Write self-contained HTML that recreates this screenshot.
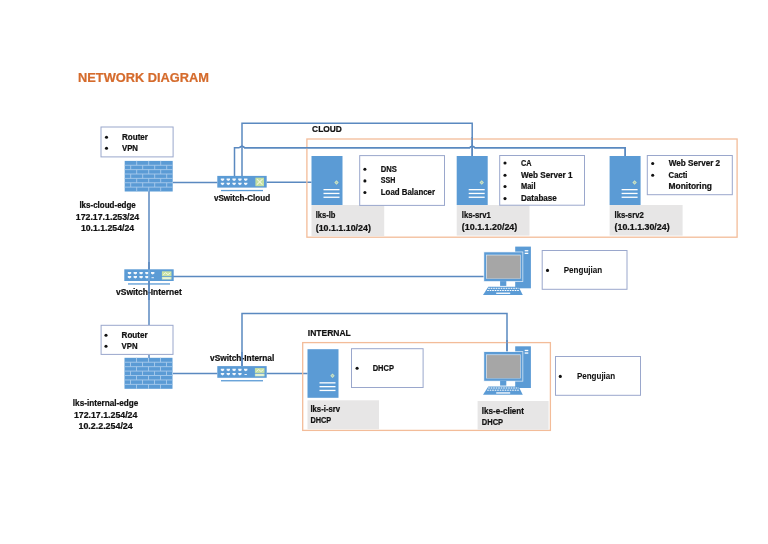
<!DOCTYPE html><html><head><meta charset="utf-8"><style>html,body{margin:0;padding:0;background:#fff;}svg{display:block;font-family:"Liberation Sans",sans-serif;will-change:transform;}</style></head><body>
<svg width="768" height="544" viewBox="0 0 768 544">
<rect x="0" y="0" width="768" height="544" fill="#fff" stroke="none" stroke-width="1"/>
<text x="78" y="81.9" font-size="12.4" font-weight="bold" fill="#D56B2C" stroke="#D56B2C" stroke-width="0.22" text-anchor="start" textLength="131" lengthAdjust="spacingAndGlyphs" >NETWORK DIAGRAM</text>
<polyline points="173,182.4 217.3,182.4" fill="none" stroke="#5A89C0" stroke-width="1.5"/>
<polyline points="266.7,182.2 311.5,182.2" fill="none" stroke="#5A89C0" stroke-width="1.5"/>
<polyline points="242,176 242,123.3 472.2,123.3 472.2,156" fill="none" stroke="#5A89C0" stroke-width="1.5"/>
<polyline points="234.5,176 234.5,147.7 239.4,147.7" fill="none" stroke="#5A89C0" stroke-width="1.5"/>
<path d="M239.4,147.7 Q242,145.0 244.6,147.7 L469.6,147.7 Q472.2,145.0 474.8,147.7 L625.2,147.7 L625.2,156" fill="none" stroke="#5A89C0" stroke-width="1.5"/>
<polyline points="149,191 149,325" fill="none" stroke="#5A89C0" stroke-width="1.5"/>
<polyline points="149,355 149,358" fill="none" stroke="#5A89C0" stroke-width="1.5"/>
<polyline points="173,276.5 484,276.5" fill="none" stroke="#5A89C0" stroke-width="1.5"/>
<polyline points="173,373.4 217.3,373.4" fill="none" stroke="#5A89C0" stroke-width="1.5"/>
<polyline points="266.6,373.4 307.5,373.4" fill="none" stroke="#5A89C0" stroke-width="1.5"/>
<polyline points="242,366 242,313.6 507,313.6 507,352" fill="none" stroke="#5A89C0" stroke-width="1.5"/>
<text x="312.1" y="132.45" font-size="9.2" font-weight="bold" fill="#111" stroke="#111" stroke-width="0.22" text-anchor="start" textLength="29.7" lengthAdjust="spacingAndGlyphs" >CLOUD</text>
<rect x="306.9" y="139" width="430.2" height="98.2" fill="none" stroke="#F3BC99" stroke-width="1.3"/>
<path d="M239.4,147.7 Q242,145.0 244.6,147.7 L469.6,147.7 Q472.2,145.0 474.8,147.7 L625.2,147.7 L625.2,156" fill="none" stroke="#5A89C0" stroke-width="1.5"/>
<polyline points="472.2,137 472.2,156" fill="none" stroke="#5A89C0" stroke-width="1.5"/>
<rect x="311.5" y="156" width="31" height="49" fill="#5B9BD5" stroke="none" stroke-width="1"/>
<path d="M334.3,182.5L336.5,180.3L338.7,182.5L336.5,184.7Z" fill="#D6E8BE"/>
<path d="M335.5,182.5L336.5,181.5L337.5,182.5L336.5,183.5Z" fill="#9CC3C8"/>
<rect x="323.5" y="189.0" width="16" height="1.3" fill="#fff" stroke="none" stroke-width="1"/>
<rect x="323.5" y="192.8" width="16" height="1.3" fill="#fff" stroke="none" stroke-width="1"/>
<rect x="323.5" y="196.6" width="16" height="1.3" fill="#fff" stroke="none" stroke-width="1"/>
<rect x="311.5" y="205" width="72.7" height="31.2" fill="#E7E6E6" stroke="none" stroke-width="1"/>
<text x="315.7" y="218.2" font-size="8.4" font-weight="bold" fill="#111" stroke="#111" stroke-width="0.22" text-anchor="start" textLength="19.8" lengthAdjust="spacingAndGlyphs" >lks-lb</text>
<text x="315.7" y="230.5" font-size="8.4" font-weight="bold" fill="#111" stroke="#111" stroke-width="0.22" text-anchor="start" textLength="55.2" lengthAdjust="spacingAndGlyphs" >(10.1.1.10/24)</text>
<rect x="359.7" y="155.6" width="84.8" height="49.8" fill="#fff" stroke="#9AA7CC" stroke-width="1"/>
<circle cx="364.9" cy="169.29999999999998" r="1.55" fill="#111"/>
<text x="380.8" y="171.7" font-size="8.4" font-weight="bold" fill="#111" stroke="#111" stroke-width="0.22" text-anchor="start" textLength="16.1" lengthAdjust="spacingAndGlyphs" >DNS</text>
<circle cx="364.9" cy="180.89999999999998" r="1.55" fill="#111"/>
<text x="380.8" y="183.29999999999998" font-size="8.4" font-weight="bold" fill="#111" stroke="#111" stroke-width="0.22" text-anchor="start" textLength="14.6" lengthAdjust="spacingAndGlyphs" >SSH</text>
<circle cx="364.9" cy="192.49999999999997" r="1.55" fill="#111"/>
<text x="380.8" y="194.89999999999998" font-size="8.4" font-weight="bold" fill="#111" stroke="#111" stroke-width="0.22" text-anchor="start" textLength="54.2" lengthAdjust="spacingAndGlyphs" >Load Balancer</text>
<rect x="456.7" y="156" width="31" height="49" fill="#5B9BD5" stroke="none" stroke-width="1"/>
<path d="M479.5,182.5L481.7,180.3L483.9,182.5L481.7,184.7Z" fill="#D6E8BE"/>
<path d="M480.7,182.5L481.7,181.5L482.7,182.5L481.7,183.5Z" fill="#9CC3C8"/>
<rect x="468.7" y="189.0" width="16" height="1.3" fill="#fff" stroke="none" stroke-width="1"/>
<rect x="468.7" y="192.8" width="16" height="1.3" fill="#fff" stroke="none" stroke-width="1"/>
<rect x="468.7" y="196.6" width="16" height="1.3" fill="#fff" stroke="none" stroke-width="1"/>
<rect x="456.7" y="205" width="72.8" height="30.6" fill="#E7E6E6" stroke="none" stroke-width="1"/>
<text x="461.8" y="218.3" font-size="8.4" font-weight="bold" fill="#111" stroke="#111" stroke-width="0.22" text-anchor="start" textLength="29.1" lengthAdjust="spacingAndGlyphs" >lks-srv1</text>
<text x="461.8" y="230.2" font-size="8.4" font-weight="bold" fill="#111" stroke="#111" stroke-width="0.22" text-anchor="start" textLength="55.5" lengthAdjust="spacingAndGlyphs" >(10.1.1.20/24)</text>
<rect x="499.7" y="155.5" width="84.8" height="49.7" fill="#fff" stroke="#9AA7CC" stroke-width="1"/>
<circle cx="505" cy="163.0" r="1.55" fill="#111"/>
<text x="521" y="165.6" font-size="8.4" font-weight="bold" fill="#111" stroke="#111" stroke-width="0.22" text-anchor="start" textLength="10.5" lengthAdjust="spacingAndGlyphs" >CA</text>
<circle cx="505" cy="175.3" r="1.55" fill="#111"/>
<text x="521" y="177.6" font-size="8.4" font-weight="bold" fill="#111" stroke="#111" stroke-width="0.22" text-anchor="start" textLength="51.5" lengthAdjust="spacingAndGlyphs" >Web Server 1</text>
<circle cx="505" cy="186.5" r="1.55" fill="#111"/>
<text x="521" y="188.7" font-size="8.4" font-weight="bold" fill="#111" stroke="#111" stroke-width="0.22" text-anchor="start" textLength="14.5" lengthAdjust="spacingAndGlyphs" >Mail</text>
<circle cx="505" cy="198.6" r="1.55" fill="#111"/>
<text x="521" y="200.5" font-size="8.4" font-weight="bold" fill="#111" stroke="#111" stroke-width="0.22" text-anchor="start" textLength="35.8" lengthAdjust="spacingAndGlyphs" >Database</text>
<rect x="609.6" y="156" width="31" height="49" fill="#5B9BD5" stroke="none" stroke-width="1"/>
<path d="M632.4,182.5L634.6,180.3L636.8000000000001,182.5L634.6,184.7Z" fill="#D6E8BE"/>
<path d="M633.6,182.5L634.6,181.5L635.6,182.5L634.6,183.5Z" fill="#9CC3C8"/>
<rect x="621.6" y="189.0" width="16" height="1.3" fill="#fff" stroke="none" stroke-width="1"/>
<rect x="621.6" y="192.8" width="16" height="1.3" fill="#fff" stroke="none" stroke-width="1"/>
<rect x="621.6" y="196.6" width="16" height="1.3" fill="#fff" stroke="none" stroke-width="1"/>
<rect x="609.6" y="205" width="73" height="30.6" fill="#E7E6E6" stroke="none" stroke-width="1"/>
<text x="614.6" y="218.3" font-size="8.4" font-weight="bold" fill="#111" stroke="#111" stroke-width="0.22" text-anchor="start" textLength="29.1" lengthAdjust="spacingAndGlyphs" >lks-srv2</text>
<text x="614.6" y="230.2" font-size="8.4" font-weight="bold" fill="#111" stroke="#111" stroke-width="0.22" text-anchor="start" textLength="55" lengthAdjust="spacingAndGlyphs" >(10.1.1.30/24)</text>
<rect x="647.3" y="155.5" width="85" height="39.2" fill="#fff" stroke="#9AA7CC" stroke-width="1"/>
<circle cx="652.7" cy="163.5" r="1.55" fill="#111"/>
<text x="668.8" y="165.9" font-size="8.4" font-weight="bold" fill="#111" stroke="#111" stroke-width="0.22" text-anchor="start" textLength="51.3" lengthAdjust="spacingAndGlyphs" >Web Server 2</text>
<circle cx="652.7" cy="175.3" r="1.55" fill="#111"/>
<text x="668.6" y="177.9" font-size="8.4" font-weight="bold" fill="#111" stroke="#111" stroke-width="0.22" text-anchor="start" textLength="18.8" lengthAdjust="spacingAndGlyphs" >Cacti</text>
<text x="668.6" y="188.5" font-size="8.4" font-weight="bold" fill="#111" stroke="#111" stroke-width="0.22" text-anchor="start" textLength="43.3" lengthAdjust="spacingAndGlyphs" >Monitoring</text>
<rect x="101.0" y="127.0" width="72.1" height="29.9" fill="#fff" stroke="#9AA7CC" stroke-width="1"/>
<circle cx="106.5" cy="137.2" r="1.55" fill="#111"/>
<text x="122" y="139.5" font-size="8.4" font-weight="bold" fill="#111" stroke="#111" stroke-width="0.22" text-anchor="start" textLength="26" lengthAdjust="spacingAndGlyphs" >Router</text>
<circle cx="106.5" cy="148.3" r="1.55" fill="#111"/>
<text x="122" y="150.6" font-size="8.4" font-weight="bold" fill="#111" stroke="#111" stroke-width="0.22" text-anchor="start" textLength="16" lengthAdjust="spacingAndGlyphs" >VPN</text>
<rect x="124.7" y="160.9" width="48" height="30.6" fill="#5B9BD5" stroke="none" stroke-width="1"/>
<path d="M124.7,165.27H172.7 M124.7,169.64H172.7 M124.7,174.01H172.7 M124.7,178.39H172.7 M124.7,182.76H172.7 M124.7,187.13H172.7 M136.70,160.90V165.27 M148.70,160.90V165.27 M160.70,160.90V165.27 M130.70,165.27V169.64 M142.70,165.27V169.64 M154.70,165.27V169.64 M166.70,165.27V169.64 M136.70,169.64V174.01 M148.70,169.64V174.01 M160.70,169.64V174.01 M130.70,174.01V178.39 M142.70,174.01V178.39 M154.70,174.01V178.39 M166.70,174.01V178.39 M136.70,178.39V182.76 M148.70,178.39V182.76 M160.70,178.39V182.76 M130.70,182.76V187.13 M142.70,182.76V187.13 M154.70,182.76V187.13 M166.70,182.76V187.13 M136.70,187.13V191.50 M148.70,187.13V191.50 M160.70,187.13V191.50" stroke="#A8CBEC" stroke-width="0.9" fill="none"/>
<text x="107.6" y="207.9" font-size="8.4" font-weight="bold" fill="#111" stroke="#111" stroke-width="0.22" text-anchor="middle" textLength="56.4" lengthAdjust="spacingAndGlyphs" >lks-cloud-edge</text>
<text x="107.5" y="220.1" font-size="8.4" font-weight="bold" fill="#111" stroke="#111" stroke-width="0.22" text-anchor="middle" textLength="63.5" lengthAdjust="spacingAndGlyphs" >172.17.1.253/24</text>
<text x="107.5" y="231.2" font-size="8.4" font-weight="bold" fill="#111" stroke="#111" stroke-width="0.22" text-anchor="middle" textLength="53.2" lengthAdjust="spacingAndGlyphs" >10.1.1.254/24</text>
<rect x="217.3" y="175.9" width="49.4" height="11.7" fill="#5B9BD5" stroke="none" stroke-width="1"/>
<rect x="221.0" y="189.9" width="42.0" height="1.3" fill="#5B9BD5" stroke="none" stroke-width="1"/>
<path d="M220.80,178.60H224.20V180.00L222.50,181.10L220.80,180.00Z" fill="#F4F8FC"/>
<path d="M220.80,182.70H224.20V184.10L222.50,185.20L220.80,184.10Z" fill="#F4F8FC"/>
<path d="M226.60,178.60H230.00V180.00L228.30,181.10L226.60,180.00Z" fill="#F4F8FC"/>
<path d="M226.60,182.70H230.00V184.10L228.30,185.20L226.60,184.10Z" fill="#F4F8FC"/>
<path d="M232.40,178.60H235.80V180.00L234.10,181.10L232.40,180.00Z" fill="#F4F8FC"/>
<path d="M232.40,182.70H235.80V184.10L234.10,185.20L232.40,184.10Z" fill="#F4F8FC"/>
<path d="M238.20,178.60H241.60V180.00L239.90,181.10L238.20,180.00Z" fill="#F4F8FC"/>
<path d="M238.20,182.70H241.60V184.10L239.90,185.20L238.20,184.10Z" fill="#F4F8FC"/>
<path d="M244.00,178.60H247.40V180.00L245.70,181.10L244.00,180.00Z" fill="#F4F8FC"/>
<path d="M244.00,182.70H247.40V184.10L245.70,185.20L244.00,184.10Z" fill="#F4F8FC"/>
<rect x="255.39999999999998" y="177.70000000000002" width="8.6" height="8.5" fill="#C3DFA0" stroke="none" stroke-width="1"/>
<path d="M256.9,179.20000000000002L262.5,184.70000000000002M262.5,179.20000000000002L256.9,184.70000000000002" stroke="#EEF6DC" stroke-width="1.1"/>
<text x="242" y="200.7" font-size="8.4" font-weight="bold" fill="#111" stroke="#111" stroke-width="0.22" text-anchor="middle" textLength="56.2" lengthAdjust="spacingAndGlyphs" >vSwitch-Cloud</text>
<rect x="124.3" y="269.3" width="49.4" height="11.7" fill="#5B9BD5" stroke="none" stroke-width="1"/>
<rect x="128.0" y="283.3" width="42.0" height="1.3" fill="#5B9BD5" stroke="none" stroke-width="1"/>
<path d="M127.80,272.00H131.20V273.40L129.50,274.50L127.80,273.40Z" fill="#F4F8FC"/>
<path d="M127.80,276.10H131.20V277.50L129.50,278.60L127.80,277.50Z" fill="#F4F8FC"/>
<path d="M133.60,272.00H137.00V273.40L135.30,274.50L133.60,273.40Z" fill="#F4F8FC"/>
<path d="M133.60,276.10H137.00V277.50L135.30,278.60L133.60,277.50Z" fill="#F4F8FC"/>
<path d="M139.40,272.00H142.80V273.40L141.10,274.50L139.40,273.40Z" fill="#F4F8FC"/>
<path d="M139.40,276.10H142.80V277.50L141.10,278.60L139.40,277.50Z" fill="#F4F8FC"/>
<path d="M145.20,272.00H148.60V273.40L146.90,274.50L145.20,273.40Z" fill="#F4F8FC"/>
<path d="M145.20,276.10H148.60V277.50L146.90,278.60L145.20,277.50Z" fill="#F4F8FC"/>
<path d="M151.00,272.00H154.40V273.40L152.70,274.50L151.00,273.40Z" fill="#F4F8FC"/>
<rect x="151.5" y="277.2" width="2.4" height="1.0" fill="#E8F1FA" stroke="none" stroke-width="1"/>
<rect x="161.89999999999998" y="271.3" width="9.6" height="4.8" fill="#C9E2A4" stroke="none" stroke-width="1"/>
<path d="M163.2,274.70000000000005L165.59999999999997,272.70000000000005L167.99999999999997,274.70000000000005L170.39999999999998,272.70000000000005" stroke="#F2F8E4" stroke-width="1" fill="none"/>
<rect x="161.89999999999998" y="276.90000000000003" width="9.6" height="2.6" fill="#D7EBBE" stroke="none" stroke-width="1"/>
<rect x="162.99999999999997" y="277.70000000000005" width="7.4" height="1.0" fill="#F2F8E4" stroke="none" stroke-width="1"/>
<text x="148.9" y="295.3" font-size="8.4" font-weight="bold" fill="#111" stroke="#111" stroke-width="0.22" text-anchor="middle" textLength="65.7" lengthAdjust="spacingAndGlyphs" >vSwitch-Internet</text>
<polyline points="149,262 149,269.5" fill="none" stroke="#5A89C0" stroke-width="1.5"/>
<polyline points="149,269.5 149,281" fill="none" stroke="#6EA6DA" stroke-width="1.5"/>
<polyline points="149,281 149,300" fill="none" stroke="#5A89C0" stroke-width="1.5"/>
<rect x="515.2" y="246.60000000000002" width="15.7" height="41.7" fill="#5B9BD5" stroke="none" stroke-width="1"/>
<rect x="524.7" y="250.10000000000002" width="3.6" height="1.3" fill="#fff" stroke="none" stroke-width="1"/>
<rect x="524.7" y="252.70000000000002" width="3.6" height="1.3" fill="#fff" stroke="none" stroke-width="1"/>
<rect x="483.5" y="251.60000000000002" width="39.7" height="30.2" fill="#EAF2FA" stroke="none" stroke-width="1"/>
<rect x="484.2" y="252.3" width="38.3" height="28.8" fill="#5B9BD5" stroke="none" stroke-width="1"/>
<rect x="486.0" y="254.70000000000002" width="34.7" height="24.0" fill="#D9E7F5" stroke="none" stroke-width="1"/>
<rect x="486.7" y="255.4" width="33.5" height="23.1" fill="#A6A6A6" stroke="none" stroke-width="1"/>
<rect x="500.09999999999997" y="281.1" width="6.2" height="4.8" fill="#5B9BD5" stroke="none" stroke-width="1"/>
<path d="M488.3,286.8H518.6L522.8,295.0H483.0Z" fill="#5B9BD5"/>
<path d="M488.2,288.3H518.7" stroke="#fff" stroke-width="1" stroke-dasharray="1.6,0.9"/>
<path d="M487.2,290.5H519.7" stroke="#fff" stroke-width="1" stroke-dasharray="1.6,0.9"/>
<rect x="496.2" y="292.6" width="14" height="1.3" fill="#fff" stroke="none" stroke-width="1"/>
<rect x="542.2" y="250.5" width="84.8" height="38.8" fill="#fff" stroke="#9AA7CC" stroke-width="1"/>
<circle cx="547.5" cy="270.4" r="1.55" fill="#111"/>
<text x="563.75" y="272.7" font-size="8.4" font-weight="bold" fill="#111" stroke="#111" stroke-width="0.05" text-anchor="start" textLength="38.5" lengthAdjust="spacingAndGlyphs" >Pengujian</text>
<rect x="101.1" y="325.3" width="71.9" height="29.1" fill="#fff" stroke="#9AA7CC" stroke-width="1"/>
<circle cx="106" cy="335.2" r="1.55" fill="#111"/>
<text x="121.6" y="337.5" font-size="8.4" font-weight="bold" fill="#111" stroke="#111" stroke-width="0.22" text-anchor="start" textLength="26" lengthAdjust="spacingAndGlyphs" >Router</text>
<circle cx="106" cy="346.3" r="1.55" fill="#111"/>
<text x="121.6" y="348.7" font-size="8.4" font-weight="bold" fill="#111" stroke="#111" stroke-width="0.22" text-anchor="start" textLength="16" lengthAdjust="spacingAndGlyphs" >VPN</text>
<rect x="124.5" y="357.8" width="48" height="31" fill="#5B9BD5" stroke="none" stroke-width="1"/>
<path d="M124.5,362.23H172.5 M124.5,366.66H172.5 M124.5,371.09H172.5 M124.5,375.51H172.5 M124.5,379.94H172.5 M124.5,384.37H172.5 M136.50,357.80V362.23 M148.50,357.80V362.23 M160.50,357.80V362.23 M130.50,362.23V366.66 M142.50,362.23V366.66 M154.50,362.23V366.66 M166.50,362.23V366.66 M136.50,366.66V371.09 M148.50,366.66V371.09 M160.50,366.66V371.09 M130.50,371.09V375.51 M142.50,371.09V375.51 M154.50,371.09V375.51 M166.50,371.09V375.51 M136.50,375.51V379.94 M148.50,375.51V379.94 M160.50,375.51V379.94 M130.50,379.94V384.37 M142.50,379.94V384.37 M154.50,379.94V384.37 M166.50,379.94V384.37 M136.50,384.37V388.80 M148.50,384.37V388.80 M160.50,384.37V388.80" stroke="#A8CBEC" stroke-width="0.9" fill="none"/>
<text x="105.6" y="406.25" font-size="8.4" font-weight="bold" fill="#111" stroke="#111" stroke-width="0.22" text-anchor="middle" textLength="65.6" lengthAdjust="spacingAndGlyphs" >lks-internal-edge</text>
<text x="105.65" y="418.4" font-size="8.4" font-weight="bold" fill="#111" stroke="#111" stroke-width="0.22" text-anchor="middle" textLength="63.5" lengthAdjust="spacingAndGlyphs" >172.17.1.254/24</text>
<text x="105.6" y="429.4" font-size="8.4" font-weight="bold" fill="#111" stroke="#111" stroke-width="0.22" text-anchor="middle" textLength="54.2" lengthAdjust="spacingAndGlyphs" >10.2.2.254/24</text>
<text x="242.15" y="360.9" font-size="8.4" font-weight="bold" fill="#111" stroke="#111" stroke-width="0.22" text-anchor="middle" textLength="64.3" lengthAdjust="spacingAndGlyphs" >vSwitch-Internal</text>
<rect x="217.3" y="366.1" width="49.4" height="11.7" fill="#5B9BD5" stroke="none" stroke-width="1"/>
<rect x="221.0" y="380.1" width="42.0" height="1.3" fill="#5B9BD5" stroke="none" stroke-width="1"/>
<path d="M220.80,368.80H224.20V370.20L222.50,371.30L220.80,370.20Z" fill="#F4F8FC"/>
<path d="M220.80,372.90H224.20V374.30L222.50,375.40L220.80,374.30Z" fill="#F4F8FC"/>
<path d="M226.60,368.80H230.00V370.20L228.30,371.30L226.60,370.20Z" fill="#F4F8FC"/>
<path d="M226.60,372.90H230.00V374.30L228.30,375.40L226.60,374.30Z" fill="#F4F8FC"/>
<path d="M232.40,368.80H235.80V370.20L234.10,371.30L232.40,370.20Z" fill="#F4F8FC"/>
<path d="M232.40,372.90H235.80V374.30L234.10,375.40L232.40,374.30Z" fill="#F4F8FC"/>
<path d="M238.20,368.80H241.60V370.20L239.90,371.30L238.20,370.20Z" fill="#F4F8FC"/>
<path d="M238.20,372.90H241.60V374.30L239.90,375.40L238.20,374.30Z" fill="#F4F8FC"/>
<path d="M244.00,368.80H247.40V370.20L245.70,371.30L244.00,370.20Z" fill="#F4F8FC"/>
<rect x="244.5" y="374.0" width="2.4" height="1.0" fill="#E8F1FA" stroke="none" stroke-width="1"/>
<rect x="254.89999999999998" y="368.1" width="9.6" height="4.8" fill="#C9E2A4" stroke="none" stroke-width="1"/>
<path d="M256.2,371.50000000000006L258.59999999999997,369.50000000000006L261.0,371.50000000000006L263.4,369.50000000000006" stroke="#F2F8E4" stroke-width="1" fill="none"/>
<rect x="254.89999999999998" y="373.70000000000005" width="9.6" height="2.6" fill="#D7EBBE" stroke="none" stroke-width="1"/>
<rect x="255.99999999999997" y="374.50000000000006" width="7.4" height="1.0" fill="#F2F8E4" stroke="none" stroke-width="1"/>
<polyline points="242,352 242,366" fill="none" stroke="#5A89C0" stroke-width="1.5"/>
<text x="307.8" y="335.7" font-size="9.4" font-weight="bold" fill="#111" stroke="#111" stroke-width="0.22" text-anchor="start" textLength="43" lengthAdjust="spacingAndGlyphs" >INTERNAL</text>
<rect x="302.7" y="342.6" width="247.7" height="87.8" fill="none" stroke="#F3BC99" stroke-width="1.3"/>
<polyline points="507,340 507,352" fill="none" stroke="#5A89C0" stroke-width="1.5"/>
<rect x="307.5" y="349.2" width="31" height="48.6" fill="#5B9BD5" stroke="none" stroke-width="1"/>
<path d="M330.3,375.7L332.5,373.5L334.7,375.7L332.5,377.9Z" fill="#D6E8BE"/>
<path d="M331.5,375.7L332.5,374.7L333.5,375.7L332.5,376.7Z" fill="#9CC3C8"/>
<rect x="319.5" y="382.2" width="16" height="1.3" fill="#fff" stroke="none" stroke-width="1"/>
<rect x="319.5" y="386.0" width="16" height="1.3" fill="#fff" stroke="none" stroke-width="1"/>
<rect x="319.5" y="389.8" width="16" height="1.3" fill="#fff" stroke="none" stroke-width="1"/>
<rect x="307.5" y="400.3" width="71.5" height="29" fill="#E7E6E6" stroke="none" stroke-width="1"/>
<text x="310.4" y="412.4" font-size="8.4" font-weight="bold" fill="#111" stroke="#111" stroke-width="0.22" text-anchor="start" textLength="29.7" lengthAdjust="spacingAndGlyphs" >lks-i-srv</text>
<text x="310.4" y="423.3" font-size="8.4" font-weight="bold" fill="#111" stroke="#111" stroke-width="0.22" text-anchor="start" textLength="20.8" lengthAdjust="spacingAndGlyphs" >DHCP</text>
<rect x="351.5" y="348.7" width="71.6" height="38.8" fill="#fff" stroke="#9AA7CC" stroke-width="1"/>
<circle cx="357.1" cy="368.3" r="1.55" fill="#111"/>
<text x="372.7" y="370.7" font-size="8.4" font-weight="bold" fill="#111" stroke="#111" stroke-width="0.22" text-anchor="start" textLength="21.3" lengthAdjust="spacingAndGlyphs" >DHCP</text>
<rect x="515.2" y="346.3" width="15.7" height="41.7" fill="#5B9BD5" stroke="none" stroke-width="1"/>
<rect x="524.7" y="349.8" width="3.6" height="1.3" fill="#fff" stroke="none" stroke-width="1"/>
<rect x="524.7" y="352.4" width="3.6" height="1.3" fill="#fff" stroke="none" stroke-width="1"/>
<rect x="483.5" y="351.3" width="39.7" height="30.2" fill="#EAF2FA" stroke="none" stroke-width="1"/>
<rect x="484.2" y="352" width="38.3" height="28.8" fill="#5B9BD5" stroke="none" stroke-width="1"/>
<rect x="486.0" y="354.4" width="34.7" height="24.0" fill="#D9E7F5" stroke="none" stroke-width="1"/>
<rect x="486.7" y="355.1" width="33.5" height="23.1" fill="#A6A6A6" stroke="none" stroke-width="1"/>
<rect x="500.09999999999997" y="380.8" width="6.2" height="4.8" fill="#5B9BD5" stroke="none" stroke-width="1"/>
<path d="M488.3,386.5H518.6L522.8,394.7H483.0Z" fill="#5B9BD5"/>
<path d="M488.2,388.0H518.7" stroke="#fff" stroke-width="1" stroke-dasharray="1.6,0.9"/>
<path d="M487.2,390.2H519.7" stroke="#fff" stroke-width="1" stroke-dasharray="1.6,0.9"/>
<rect x="496.2" y="392.3" width="14" height="1.3" fill="#fff" stroke="none" stroke-width="1"/>
<rect x="477.6" y="401" width="71" height="28.7" fill="#E7E6E6" stroke="none" stroke-width="1"/>
<text x="481.8" y="413.5" font-size="8.4" font-weight="bold" fill="#111" stroke="#111" stroke-width="0.22" text-anchor="start" textLength="42.2" lengthAdjust="spacingAndGlyphs" >lks-e-client</text>
<text x="481.8" y="424.5" font-size="8.4" font-weight="bold" fill="#111" stroke="#111" stroke-width="0.22" text-anchor="start" textLength="21.3" lengthAdjust="spacingAndGlyphs" >DHCP</text>
<rect x="555.5" y="356.5" width="85" height="38.8" fill="#fff" stroke="#9AA7CC" stroke-width="1"/>
<circle cx="560.3" cy="376.4" r="1.55" fill="#111"/>
<text x="576.9" y="378.9" font-size="8.4" font-weight="bold" fill="#111" stroke="#111" stroke-width="0.05" text-anchor="start" textLength="38.3" lengthAdjust="spacingAndGlyphs" >Pengujian</text>
</svg></body></html>
